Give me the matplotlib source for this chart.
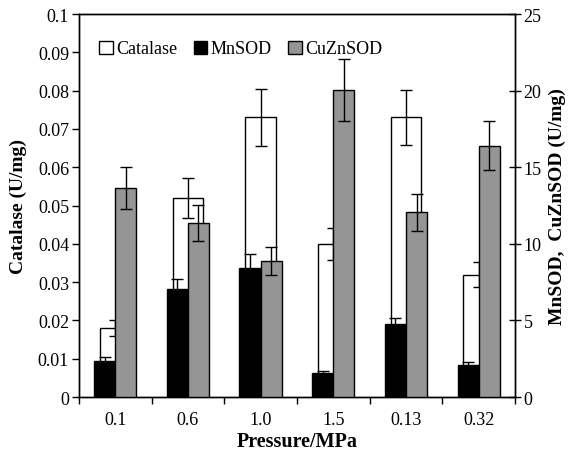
import numpy as np
import matplotlib
matplotlib.use('Agg')
import matplotlib.pyplot as plt
from matplotlib.patches import Patch

plt.rcParams['font.family'] = ['Liberation Serif', 'DejaVu Serif']

pressures = ['0.1', '0.6', '1.0', '1.5', '0.13', '0.32']

catalase = [0.018, 0.052, 0.073, 0.040, 0.073, 0.032]
catalase_err = [0.002, 0.0053, 0.0074, 0.0041, 0.0073, 0.0033]

mnsod = [2.37, 7.05, 8.44, 1.55, 4.74, 2.11]
mnsod_err = [0.25, 0.65, 0.9, 0.13, 0.45, 0.2]

cuznsod = [13.65, 11.36, 8.88, 20.05, 12.06, 16.4]
cuznsod_err = [1.35, 1.2, 0.9, 2.0, 1.2, 1.6]

GRAY = '#959595'

fig = plt.figure(figsize=(5.71, 4.56), dpi=100)
ax = fig.add_axes([0.138, 0.127, 0.764, 0.840])
ax2 = ax.twinx()

x = np.arange(len(pressures))
err_kw = dict(ecolor='black', elinewidth=1.0, capsize=4, capthick=1.0)

ax.bar(x, catalase, width=0.42, color='white', edgecolor='black', linewidth=1.0,
       yerr=catalase_err, error_kw=err_kw, zorder=2)

ax2.bar(x - 0.145, mnsod, width=0.29, color='black', edgecolor='black', linewidth=1.0,
        yerr=mnsod_err, error_kw=err_kw, zorder=3)
ax2.bar(x + 0.145, cuznsod, width=0.29, color=GRAY, edgecolor='black', linewidth=1.0,
        yerr=cuznsod_err, error_kw=err_kw, zorder=3)

ax.set_xlim(-0.5, 5.5)
ax.set_ylim(0, 0.1)
ax2.set_ylim(0, 25)

ax.set_yticks(np.arange(0, 0.1001, 0.01))
ax.set_yticklabels(['0'] + ['%.2f' % v for v in np.arange(0.01, 0.0951, 0.01)] + ['0.1'])
ax2.set_yticks(np.arange(0, 26, 5))

ax.set_xticks(np.arange(-0.5, 5.6, 1.0))
ax.set_xticklabels([])
ax.set_xticks(x, minor=True)
ax.set_xticklabels(pressures, minor=True)
ax.tick_params(axis='x', which='minor', length=0, pad=10, labelsize=13)
ax.tick_params(axis='x', which='major', direction='out', length=5, width=1)
ax.tick_params(axis='y', direction='out', length=5, width=1, labelsize=13, pad=2)
ax2.tick_params(axis='y', direction='inout', length=8, width=1, labelsize=13, pad=2)

for a in (ax, ax2):
    for s in a.spines.values():
        s.set_linewidth(1.0)

ax.set_xlabel('Pressure/MPa', fontsize=14.5, fontweight='bold', labelpad=2)
ax.set_ylabel('Catalase (U/mg)', fontsize=14, fontweight='bold', labelpad=8)
ax2.set_ylabel('MnSOD,  CuZnSOD (U/mg)', fontsize=14, fontweight='bold', labelpad=5)

handles = [Patch(facecolor='white', edgecolor='black', linewidth=1.0),
           Patch(facecolor='black', edgecolor='black', linewidth=1.0),
           Patch(facecolor=GRAY, edgecolor='black', linewidth=1.0)]
ax.legend(handles, ['Catalase', 'MnSOD', 'CuZnSOD'], ncol=3, frameon=False,
          loc='upper left', bbox_to_anchor=(0.03, 0.95), fontsize=13,
          handlelength=0.75, handleheight=0.75, handletextpad=0.2, columnspacing=0.9,
          borderaxespad=0)

fig.savefig('out.png', dpi=100)
